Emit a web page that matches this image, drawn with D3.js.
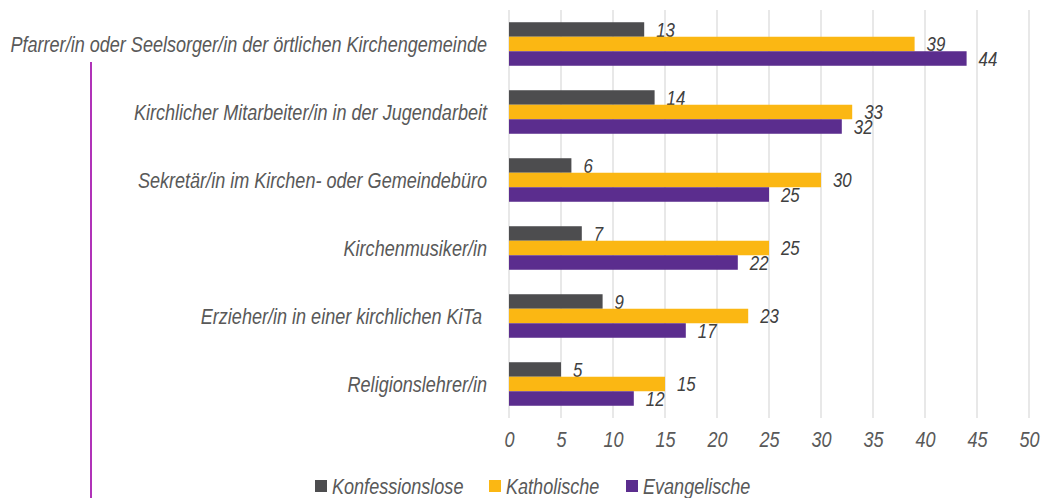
<!DOCTYPE html>
<html>
<head>
<meta charset="utf-8">
<script src="https://cdn.jsdelivr.net/npm/d3@7"></script>
<style>
  html, body { margin: 0; padding: 0; background: #fff; }
  svg { display: block; }
  text { font-family: "Liberation Sans", Arial, sans-serif; font-style: italic; }
</style>
</head>
<body>
<svg id="chart" width="1050" height="498"></svg>
<script>
// Categories (top to bottom)
const categories = [
  "Pfarrer/in oder Seelsorger/in der örtlichen Kirchengemeinde",
  "Kirchlicher Mitarbeiter/in in der Jugendarbeit",
  "Sekretär/in im Kirchen- oder Gemeindebüro",
  "Kirchenmusiker/in",
  "Erzieher/in in einer kirchlichen KiTa ",
  "Religionslehrer/in"
];
const seriesNames = ["Konfessionslose", "Katholische", "Evangelische"];
const konfessionslose = [13, 14, 6, 7, 9, 5];
const katholische = [39, 33, 30, 25, 23, 15];
const evangelische = [44, 32, 25, 22, 17, 12];
const tickValues = [0, 5, 10, 15, 20, 25, 30, 35, 40, 45, 50];
const colors = ["#4d4d4f", "#fbb713", "#5b2d8e"];

const seriesValues = [konfessionslose, katholische, evangelische];
const svg = d3.select("#chart");

const catSize = 22;
// Condensed look: Liberation Sans squeezed horizontally
const probe = svg.append("text").attr("font-size", catSize).text(categories[0]);
const squeeze = Math.min(1, 477 / probe.node().getComputedTextLength());
probe.remove();

// Places a text at (px, py) and squeezes it horizontally around that anchor
function place(sel, px, py) {
  sel.attr("x", 0).attr("y", 0)
    .attr("transform", (d, i) => `translate(${px(d, i)},${py(d, i)}) scale(${squeeze},1)`);
}

const x = d3.scaleLinear().domain([0, 50]).range([509, 1029]);
const y = d3.scaleBand().domain(categories).range([10, 418]).paddingInner(0.36).paddingOuter(0.18);
const yInner = d3.scaleBand().domain(seriesNames).range([0, y.bandwidth()]);

// Vertical gridlines
svg.append("g")
  .selectAll("line")
  .data(tickValues)
  .join("line")
  .attr("x1", d => x(d)).attr("x2", d => x(d))
  .attr("y1", 10).attr("y2", 418)
  .attr("stroke", "#d9d9d9").attr("stroke-width", 1.2);

// Accent line on the left
svg.append("line")
  .attr("x1", 91).attr("x2", 91)
  .attr("y1", 62).attr("y2", 498)
  .attr("stroke", "#b033b8").attr("stroke-width", 2);

// Bars and value labels
const groups = svg.append("g")
  .selectAll("g")
  .data(categories)
  .join("g")
  .attr("transform", d => `translate(0,${y(d)})`);

groups.each(function(cat, i) {
  const g = d3.select(this);
  seriesNames.forEach((s, j) => {
    const v = seriesValues[j][i];
    g.append("rect")
      .attr("x", x(0))
      .attr("y", yInner(s))
      .attr("width", x(v) - x(0))
      .attr("height", yInner.bandwidth())
      .attr("fill", colors[j]);
    g.append("text")
      .attr("dy", "0.35em")
      .attr("font-size", 20.5)
      .attr("fill", "#404040")
      .text(v)
      .call(place, () => x(v) + 12, () => yInner(s) + yInner.bandwidth() / 2);
  });
});

// Category labels
svg.append("g")
  .selectAll("text")
  .data(categories)
  .join("text")
  .attr("dy", "0.35em")
  .attr("text-anchor", "end")
  .attr("font-size", catSize)
  .attr("fill", "#595959")
  .style("white-space", "pre")
  .text(d => d)
  .call(place, () => 487, d => y(d) + y.bandwidth() / 2);

// X axis tick labels
const xAxis = d3.axisBottom(x).tickValues(tickValues).tickSize(0).tickPadding(0);
const axisG = svg.append("g").attr("transform", "translate(0,431)").call(xAxis);
axisG.select(".domain").remove();
axisG.selectAll("text")
  .attr("font-size", 22)
  .attr("font-family", "Liberation Sans, Arial, sans-serif")
  .attr("font-style", "italic")
  .attr("fill", "#595959")
  .attr("dy", "0.71em")
  .attr("transform", `scale(${squeeze},1)`);

// Legend
const legendX = [315, 489, 626];
const legend = svg.append("g")
  .selectAll("g")
  .data(seriesNames)
  .join("g")
  .attr("transform", (d, i) => `translate(${legendX[i]},486)`);
legend.append("rect")
  .attr("x", 0).attr("y", -6)
  .attr("width", 12).attr("height", 12)
  .attr("fill", (d, i) => colors[i]);
legend.append("text")
  .attr("dy", "0.35em")
  .attr("font-size", 22)
  .attr("fill", "#595959")
  .text(d => d)
  .call(place, () => 17, () => 0);
</script>
</body>
</html>
